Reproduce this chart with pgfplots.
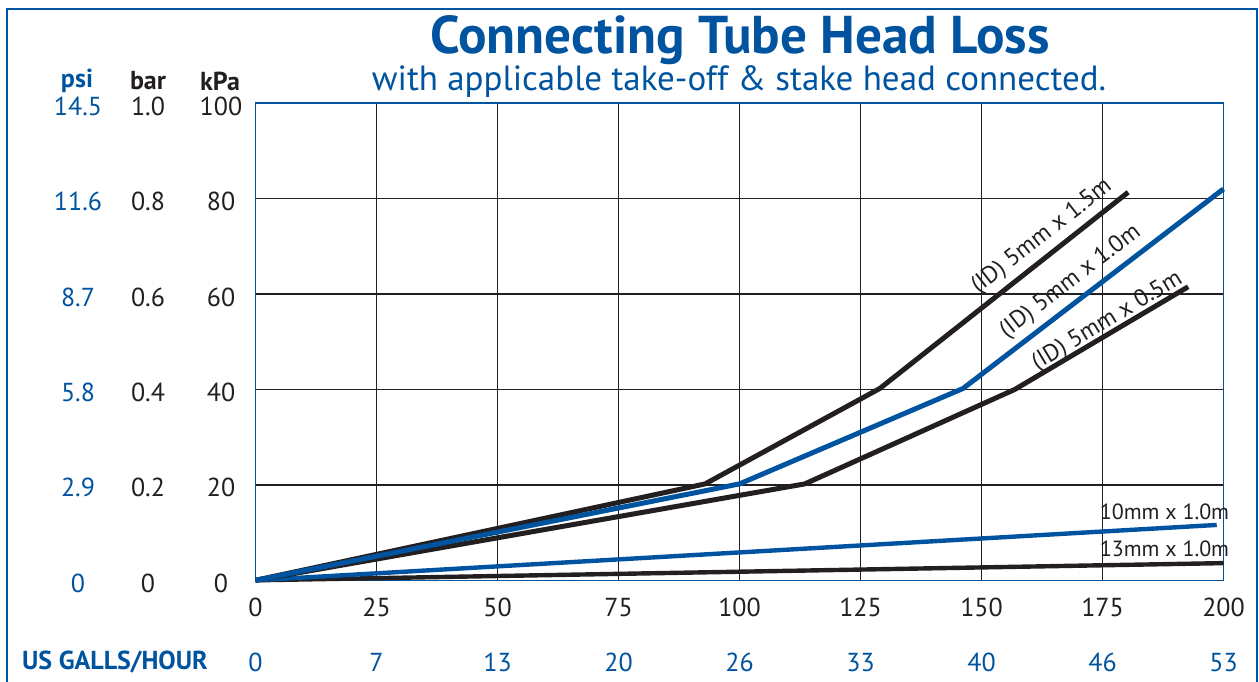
\documentclass[border=0pt]{standalone}
\usepackage{pgfplots}
\pgfplotsset{compat=1.18}
\usepackage{fontspec}
\setmainfont{PT Sans}
\definecolor{tubeblue}{RGB}{0,84,159}
\definecolor{tubeblack}{RGB}{35,31,32}

\begin{document}
\begin{tikzpicture}[x=0.5pt,y=-0.5pt]
\useasboundingbox (0,0) rectangle (1259,681);
% outer frame
\draw[tubeblue, line width=1.2pt] (7,700) -- (7,9) -- (1257,9) -- (1257,700);
% titles
\node[tubeblue, font=\fontsize{26.6}{30}\selectfont\bfseries] at (740,40) {Connecting Tube Head Loss};
\node[tubeblue, font=\fontsize{17.5}{20}\selectfont] at (739,82) {with applicable take-off \& stake head connected.};
% column headers
\node[tubeblue, font=\fontsize{13}{15}\selectfont\bfseries] at (77,81) {psi};
\node[tubeblack, font=\fontsize{13}{15}\selectfont\bfseries] at (148,81) {bar};
\node[tubeblack, font=\fontsize{13}{15}\selectfont\bfseries] at (220,81) {kPa};
\node[tubeblue, font=\fontsize{13}{15}\selectfont\bfseries] at (115,662) {US GALLS/HOUR};

% psi column
\begin{axis}[
  at={(127.75pt,-290.15pt)}, anchor=south west,
  width=484pt, height=238.65pt, scale only axis,
  xmin=0, xmax=200, ymin=0, ymax=100,
  hide x axis, axis y line*=left, y axis line style={draw=none},
  major tick length=0,
  ytick={0,20,...,100},
  yticklabels={0,2.9,5.8,8.7,11.6,14.5},
  yticklabel style={tubeblue, anchor=center, xshift=-88.75pt, yshift=-1.5pt,
    font=\fontsize{13}{15}\selectfont},
]
\end{axis}
% bar column
\begin{axis}[
  at={(127.75pt,-290.15pt)}, anchor=south west,
  width=484pt, height=238.65pt, scale only axis,
  xmin=0, xmax=200, ymin=0, ymax=100,
  hide x axis, axis y line*=left, y axis line style={draw=none},
  major tick length=0,
  ytick={0,20,...,100},
  yticklabels={0,0.2,0.4,0.6,0.8,1.0},
  yticklabel style={tubeblack, anchor=center, xshift=-53.75pt, yshift=-1.5pt,
    font=\fontsize{13}{15}\selectfont},
]
\end{axis}
% US galls/hour row
\begin{axis}[
  at={(127.75pt,-290.15pt)}, anchor=south west,
  width=484pt, height=238.65pt, scale only axis,
  xmin=0, xmax=200, ymin=0, ymax=100,
  hide y axis, axis x line*=bottom, x axis line style={draw=none},
  major tick length=0,
  xtick={0,25,...,200},
  xticklabels={0,7,13,20,26,33,40,46,53},
  xticklabel style={tubeblue, anchor=center, yshift=-41pt,
    font=\fontsize{13}{15}\selectfont},
]
\end{axis}

% main chart (L/hr vs kPa)
\begin{axis}[
  at={(127.75pt,-290.15pt)}, anchor=south west,
  width=484pt, height=238.65pt, scale only axis,
  xmin=0, xmax=200, ymin=0, ymax=100,
  xtick={0,25,...,200}, ytick={0,20,...,100},
  grid=major, grid style={tubeblack, line width=0.7pt},
  axis line style={tubeblue, line width=0.8pt},
  major tick length=0,
  /pgf/number format/assume math mode=true,
  tick label style={tubeblack, font=\fontsize{13}{15}\selectfont},
  xticklabel style={anchor=center, yshift=-13.5pt},
  yticklabel style={anchor=center, xshift=-17.25pt, yshift=-1.5pt},
  clip=false,
  every axis plot/.append style={line join=round, line cap=butt},
]
\addplot[tubeblack, line width=2.2pt] coordinates {(0,0) (200,3.6)};
\addplot[tubeblue, line width=2.2pt] coordinates {(0,0) (198.6,11.6)};
\addplot[tubeblack, line width=2.5pt] coordinates {(0,0) (113.5,20.2) (156.9,40.0) (192.7,61.5)};
\addplot[tubeblack, line width=2.5pt] coordinates {(0,0) (92.9,20.2) (129,40.2) (180.3,81.3)};
\addplot[tubeblue, line width=2.5pt] coordinates {(0,0) (100,20.2) (146.2,40.2) (200,82)};

\node[tubeblack, rotate=38, font=\fontsize{12}{14}\selectfont] at (axis cs:162.5,72) {(ID) 5mm x 1.5m};
\node[tubeblack, rotate=37.5, font=\fontsize{12}{14}\selectfont] at (axis cs:168.4,62.6) {(ID) 5mm x 1.0m};
\node[tubeblack, rotate=31, font=\fontsize{12}{14}\selectfont] at (axis cs:176,54.3) {(ID) 5mm x 0.5m};
\node[tubeblack, font=\fontsize{11}{13}\selectfont] at (axis cs:187.8,14.4) {10mm x 1.0m};
\node[tubeblack, font=\fontsize{11}{13}\selectfont] at (axis cs:187.8,6.7) {13mm x 1.0m};
\end{axis}
\end{tikzpicture}
\end{document}
